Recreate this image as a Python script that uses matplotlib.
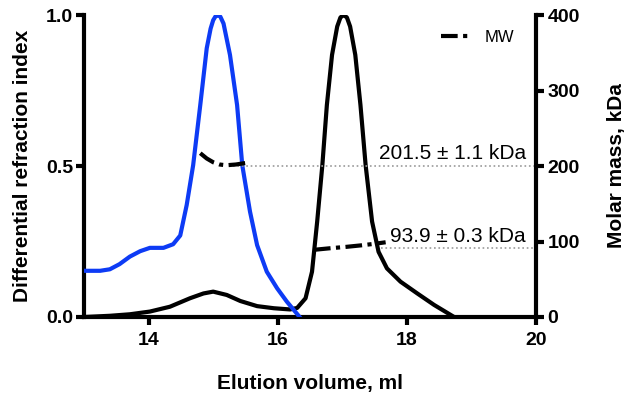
import matplotlib.pyplot as plt

plt.rcParams['font.family'] = ['Liberation Sans', 'DejaVu Sans']

# refractive index traces (left axis)
blue_x = [13.0, 13.25, 13.4, 13.55, 13.71, 13.87, 14.02, 14.23, 14.38, 14.49, 14.59, 14.69,
          14.80, 14.90, 14.96, 15.00, 15.04, 15.07, 15.11, 15.16, 15.26, 15.37, 15.45,
          15.57, 15.68, 15.83, 15.99, 16.14, 16.35]
blue_y = [0.153, 0.153, 0.158, 0.175, 0.200, 0.218, 0.229, 0.229, 0.241, 0.27, 0.371, 0.503,
          0.702, 0.89, 0.955, 0.983, 0.997, 1.0, 0.995, 0.972, 0.868, 0.702, 0.503,
          0.349, 0.238, 0.150, 0.095, 0.051, -0.003]

black_x = [13.0, 13.4, 13.71, 14.02, 14.33, 14.64, 14.85, 15.00, 15.21, 15.42, 15.68, 15.94,
           16.19, 16.30, 16.43, 16.53, 16.61, 16.69, 16.76, 16.84, 16.92, 16.97, 17.02,
           17.07, 17.12, 17.20, 17.28, 17.36, 17.46, 17.56, 17.69, 17.90, 18.16, 18.42,
           18.73]
black_y = [0.0, 0.004, 0.009, 0.018, 0.034, 0.062, 0.078, 0.084, 0.073, 0.053, 0.036, 0.029,
           0.025, 0.03, 0.062, 0.15, 0.316, 0.503, 0.702, 0.868, 0.962, 0.992, 1.0,
           0.992, 0.962, 0.868, 0.702, 0.503, 0.316, 0.216, 0.161, 0.117, 0.078, 0.04,
           0.0]

# molar mass (right axis)
mw1_x = [14.8, 14.9, 15.0, 15.1, 15.2, 15.35, 15.5]
mw1_y = [217, 210, 205, 202, 201, 202, 204]
mw2_x = [16.56, 16.8, 17.07, 17.3, 17.5, 17.67]
mw2_y = [89, 91, 93, 95, 97, 99]

ref_levels = [200, 92]
ref_start = [15.3, 17.6]
labels = ['201.5 ± 1.1 kDa', '93.9 ± 0.3 kDa']
label_y = [217, 106]

fig = plt.figure(figsize=(6.33, 3.96), dpi=100)
ax = fig.add_axes([0.1327, 0.1995, 0.7143, 0.7625])
ax2 = ax.twinx()

ax.plot(black_x, black_y, color='black', lw=3, solid_joinstyle='round', zorder=3)
ax.plot(blue_x, blue_y, color='#0d3bf5', lw=3, solid_joinstyle='round', zorder=3)

for lev, x0 in zip(ref_levels, ref_start):
    ax2.plot([x0, 20], [lev, lev], color='#999999', lw=1.2, ls=':', zorder=1)
for txt, yy in zip(labels, label_y):
    ax2.text(19.84, yy, txt, ha='right', va='center', fontsize=15)

dash = [4, 1.3, 1, 1.3]
ax2.plot(mw1_x, mw1_y, color='black', lw=3, dashes=dash, label='MW', zorder=4)
ax2.plot(mw2_x, mw2_y, color='black', lw=3, dashes=dash, zorder=4)

ax.set_xlim(13, 20)
ax.set_ylim(0, 1.0)
ax2.set_ylim(0, 400)
ax.set_xticks([14, 16, 18, 20])
ax.set_yticks([0.0, 0.5, 1.0])
ax.set_yticklabels(['0.0', '0.5', '1.0'])
ax2.set_yticks([0, 100, 200, 300, 400])

for a in (ax, ax2):
    a.spines['top'].set_visible(False)
    for s in a.spines.values():
        s.set_linewidth(3)
    a.tick_params(width=3, length=6, labelsize=14, pad=2)
    for lab in a.get_xticklabels() + a.get_yticklabels():
        lab.set_fontweight('bold')
ax.spines['right'].set_visible(False)
ax2.spines['left'].set_visible(False)
ax2.spines['bottom'].set_visible(False)
ax.tick_params(axis='x', pad=5)

ax.set_xlabel('Elution volume, ml', fontsize=15, fontweight='bold', labelpad=18)
ax.set_ylabel('Differential refraction index', fontsize=15, fontweight='bold', labelpad=10)
ax2.set_ylabel('Molar mass, kDa', fontsize=15, fontweight='bold', labelpad=20)

ax2.legend(loc='upper right', bbox_to_anchor=(0.985, 1.0), frameon=False, fontsize=12,
           handlelength=1.8, handletextpad=0.8)

fig.savefig('out.png', dpi=100)
